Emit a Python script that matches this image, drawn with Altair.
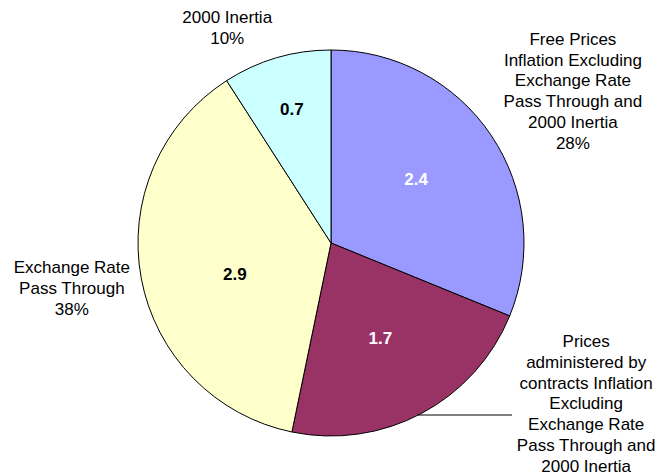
import altair as alt
import pandas as pd

# Contribution of each component to inflation (percentage points)
categories = [
    "Free Prices Inflation Excluding Exchange Rate Pass Through and 2000 Inertia",
    "Prices administered by contracts Inflation Excluding Exchange Rate Pass Through and 2000 Inertia",
    "Exchange Rate Pass Through",
    "2000 Inertia",
]
values = [2.4, 1.7, 2.9, 0.7]
label_lines = [
    ["Free Prices", "Inflation Excluding", "Exchange Rate", "Pass Through and", "2000 Inertia", "28%"],
    ["Prices", "administered by", "contracts Inflation", "Excluding", "Exchange Rate",
     "Pass Through and", "2000 Inertia"],
    ["Exchange Rate", "Pass Through", "38%"],
    ["2000 Inertia", "10%"],
]
colors = ["#9999FF", "#993366", "#FFFFCC", "#CCFFFF"]
value_colors = ["white", "white", "black", "black"]

FONT = "Liberation Sans"

df = pd.DataFrame({
    "cat": categories,
    "value": values,
    "order": list(range(len(categories))),
    "vtext": [f"{v:.1f}" for v in values],
    "label": ["\n".join(lines) for lines in label_lines],
})

base = alt.Chart(df).encode(
    theta=alt.Theta("value:Q", stack=True),
    order=alt.Order("order:Q"),
)

pie = base.mark_arc(outerRadius=193, stroke="black", strokeWidth=1).encode(
    color=alt.Color("cat:N", scale=alt.Scale(domain=categories, range=colors), legend=None)
)


def value_label(i, r, dx=0, dy=0):
    return base.transform_calculate(
        t=f"datum.order == {i} ? datum.vtext : ''"
    ).mark_text(
        radius=r, dx=dx, dy=dy, font=FONT, fontSize=17, fontWeight="bold",
        color=value_colors[i], align="center", baseline="middle",
    ).encode(text="t:N")


def outer_label(i, dx, dy, r=230):
    # dy places the first line; the remaining lines run downward from it
    return base.transform_calculate(
        t=f"datum.order == {i} ? datum.label : ''"
    ).mark_text(
        radius=r, dx=dx, dy=dy, font=FONT, fontSize=17, color="black",
        align="center", baseline="middle", lineBreak="\n", lineHeight=20.8,
    ).encode(text="t:N")


# connector from the administered-prices slice to its label
leader = alt.Chart(df).mark_rule(color="black", strokeWidth=1).encode(
    x=alt.value(416), x2=alt.value(510), y=alt.value(405)
).transform_filter("datum.order == 1")

chart = alt.layer(
    pie,
    leader,
    value_label(0, 105, dx=-2, dy=-4),
    value_label(1, 105, dy=3),
    value_label(2, 105, dx=7, dy=13),
    value_label(3, 139),
    outer_label(0, 51, -75),
    outer_label(1, 147, -104),
    outer_label(2, -33, -17),
    outer_label(3, -39, -4),
).properties(
    width=658,
    height=466,
    autosize=alt.AutoSizeParams(type="none"),
    padding={"left": 2, "top": 10, "right": 0, "bottom": 0},
).configure_view(stroke=None)

chart.save("out.html", embed_options={"renderer": "svg", "actions": False})
